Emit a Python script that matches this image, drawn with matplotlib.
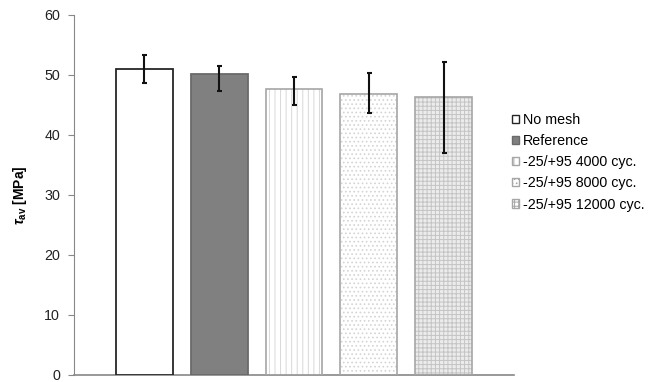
import matplotlib
matplotlib.use("Agg")
import matplotlib.pyplot as plt
from matplotlib.patches import Patch

plt.rcParams['font.family'] = ['Liberation Sans', 'DejaVu Sans']
plt.rcParams['mathtext.fontset'] = 'custom'
plt.rcParams['mathtext.it'] = 'Liberation Sans:bold:italic'
plt.rcParams['mathtext.rm'] = 'Liberation Sans:bold'
plt.rcParams['mathtext.bf'] = 'Liberation Sans:bold'
plt.rcParams['hatch.linewidth'] = 0.7

series = ["No mesh", "Reference", "-25/+95 4000 cyc.",
          "-25/+95 8000 cyc.", "-25/+95 12000 cyc."]
tau_av = [51.0, 50.2, 47.6, 46.9, 46.3]
err_low = [2.3, 2.8, 2.6, 3.3, 9.3]
err_high = [2.3, 1.35, 2.1, 3.45, 5.8]
y_ticks = [0, 10, 20, 30, 40, 50, 60]

faces = ["white", "#808080", "white", "white", "#ececec"]
hatches = [None, None, "|||", "....", "++++"]
hatch_cols = [None, None, "#d8d8d8", "#d4d4d4", "#c4c4c4"]
edges = ["#262626", "#6a6a6a", "#a6a6a6", "#a6a6a6", "#a6a6a6"]

fig = plt.figure(figsize=(6.53, 3.82), dpi=100)
ax = fig.add_axes([74/653, 7/382, 440/653, 360/382])

x = list(range(len(series)))
width = 0.76
for i in x:
    if hatches[i]:
        ax.bar(x[i], tau_av[i], width, color=faces[i], edgecolor=hatch_cols[i],
               hatch=hatches[i], linewidth=0, zorder=2)
        ax.bar(x[i], tau_av[i], width, facecolor="none", edgecolor=edges[i],
               linewidth=1.2, zorder=3)
    else:
        ax.bar(x[i], tau_av[i], width, color=faces[i], edgecolor=edges[i],
               linewidth=1.3, zorder=3)
    ax.errorbar(x[i], tau_av[i], yerr=[[err_low[i]], [err_high[i]]], fmt="none",
                ecolor="#111111", elinewidth=1.5, capsize=1.8, capthick=1.5,
                zorder=4)

ax.set_xlim(-0.943, 4.943)
ax.set_ylim(0, 60)
ax.set_yticks(y_ticks)
ax.set_xticks([])
ax.tick_params(axis="y", direction="out", length=4, color="#888888",
               labelsize=10.3, labelcolor="#222222", pad=6)
for s in ["top", "right"]:
    ax.spines[s].set_visible(False)
ax.spines["left"].set_color("#888888")
ax.spines["bottom"].set_color("#888888")
ax.spines["bottom"].set_linewidth(1.2)

ax.set_ylabel(r"$\tau_{\mathrm{av}}$ [MPa]", fontsize=10, fontweight="bold",
              labelpad=11)

handles = []
for i in x:
    handles.append(Patch(facecolor=faces[i] if not hatches[i] else "white",
                         edgecolor=edges[i] if i < 2 else "#a6a6a6",
                         hatch=hatches[i], linewidth=1.0, label=series[i]))
fig.legend(handles=handles, loc="upper left", bbox_to_anchor=(512/653, 1 - 113/382),
           frameon=False, fontsize=10.3, handlelength=0.5, handleheight=0.5,
           handletextpad=0.25, labelspacing=0.5, borderpad=0, borderaxespad=0)

fig.savefig("out.png", dpi=100)
